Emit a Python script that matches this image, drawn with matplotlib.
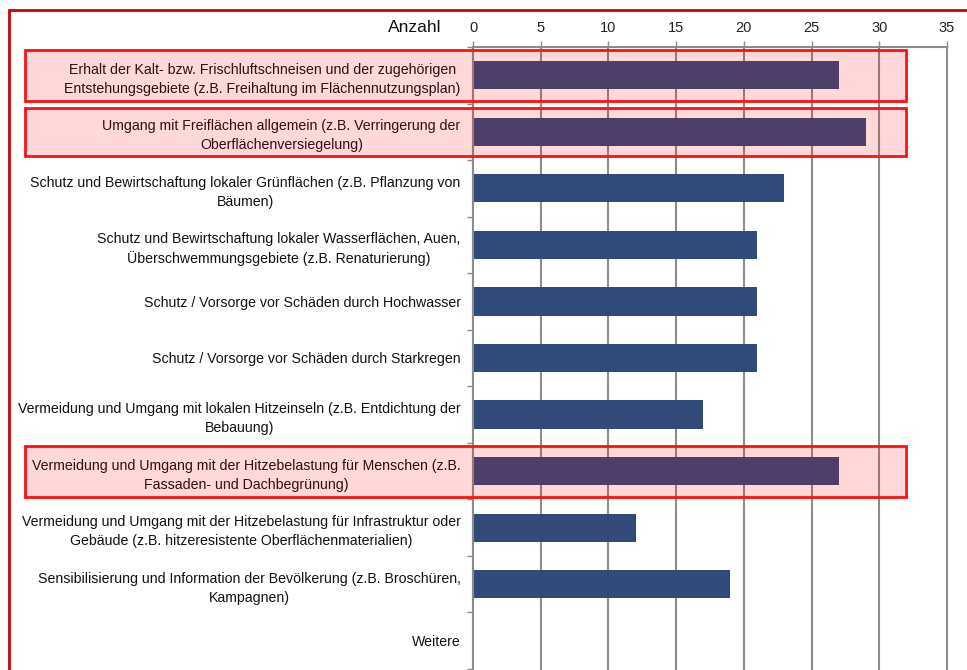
import matplotlib
matplotlib.use("Agg")
import matplotlib.pyplot as plt
from matplotlib.patches import Rectangle

categories = [
    "Erhalt der Kalt- bzw. Frischluftschneisen und der zugehörigen\nEntstehungsgebiete (z.B. Freihaltung im Flächennutzungsplan)",
    "Umgang mit Freiflächen allgemein (z.B. Verringerung der\nOberflächenversiegelung)",
    "Schutz und Bewirtschaftung lokaler Grünflächen (z.B. Pflanzung von\nBäumen)",
    "Schutz und Bewirtschaftung lokaler Wasserflächen, Auen,\nÜberschwemmungsgebiete (z.B. Renaturierung)",
    "Schutz / Vorsorge vor Schäden durch Hochwasser",
    "Schutz / Vorsorge vor Schäden durch Starkregen",
    "Vermeidung und Umgang mit lokalen Hitzeinseln (z.B. Entdichtung der\nBebauung)",
    "Vermeidung und Umgang mit der Hitzebelastung für Menschen (z.B.\nFassaden- und Dachbegrünung)",
    "Vermeidung und Umgang mit der Hitzebelastung für Infrastruktur oder\nGebäude (z.B. hitzeresistente Oberflächenmaterialien)",
    "Sensibilisierung und Information der Bevölkerung (z.B. Broschüren,\nKampagnen)",
    "Weitere",
]
values = [27, 29, 23, 21, 21, 21, 17, 27, 12, 19, 0]
highlighted = [0, 1, 7]
xticks = [0, 5, 10, 15, 20, 25, 30, 35]
axis_label = "Anzahl"

plt.rcParams['font.family'] = ['Liberation Sans', 'DejaVu Sans']

W, H = 967, 670
fig = plt.figure(figsize=(W / 100, H / 100), dpi=100)
ax = fig.add_axes([473 / W, 1 - 669 / H, (947 - 473) / W, (669 - 47) / H])

n = len(categories)
ypos = list(range(n))
ax.barh(ypos, values, height=0.5, color="#304b79", zorder=3)

ax.set_xlim(0, 35)
ax.set_ylim(n - 0.5, -0.5)
ax.set_xticks(xticks)
ax.xaxis.tick_top()
ax.tick_params(axis='x', which='major', length=4, width=1, color="#8c8c8c",
               labelsize=10.5, pad=5, labelcolor="#222222")
ax.set_yticks(ypos)
ax.set_yticklabels(categories, fontsize=10.2, multialignment='center', color="#111111",
                   linespacing=1.45)
ax.tick_params(axis='y', which='major', length=0, pad=9)
ax.set_yticks([i + 0.5 for i in range(-1, n)], minor=True)
ax.tick_params(axis='y', which='minor', length=4, width=1, color="#8c8c8c")

ax.grid(axis='x', color="#8c8c8c", linewidth=1.5, zorder=1)
for gl in ax.get_xgridlines():
    gl.set_clip_on(False)
for s in ['right', 'bottom']:
    ax.spines[s].set_visible(False)
for s in ['left', 'top']:
    ax.spines[s].set_color("#8c8c8c")
    ax.spines[s].set_linewidth(1.5)
    ax.spines[s].set_zorder(4)

# highlight boxes
x_left = (25 - 473) / ((947 - 473) / 35)
for r in highlighted:
    h = 0.42 if r == 1 else 0.45
    rect = Rectangle((x_left, r - h), 32 - x_left, 2 * h, facecolor=(1, 0, 0, 0.15),
                     edgecolor="#ff1010", linewidth=2, clip_on=False, zorder=5)
    ax.add_patch(rect)

fig.text(415 / W, 1 - 27 / H, axis_label, ha='center', va='center', fontsize=12.5, color="#111111")

# outer red frame
frame = Rectangle((9 / W, -0.05), 1.1, 1 - 10 / H + 0.05, transform=fig.transFigure,
                  facecolor='none', edgecolor="#cc0000", linewidth=2, clip_on=False)
fig.patches.append(frame)

fig.savefig("out.png", dpi=100)
